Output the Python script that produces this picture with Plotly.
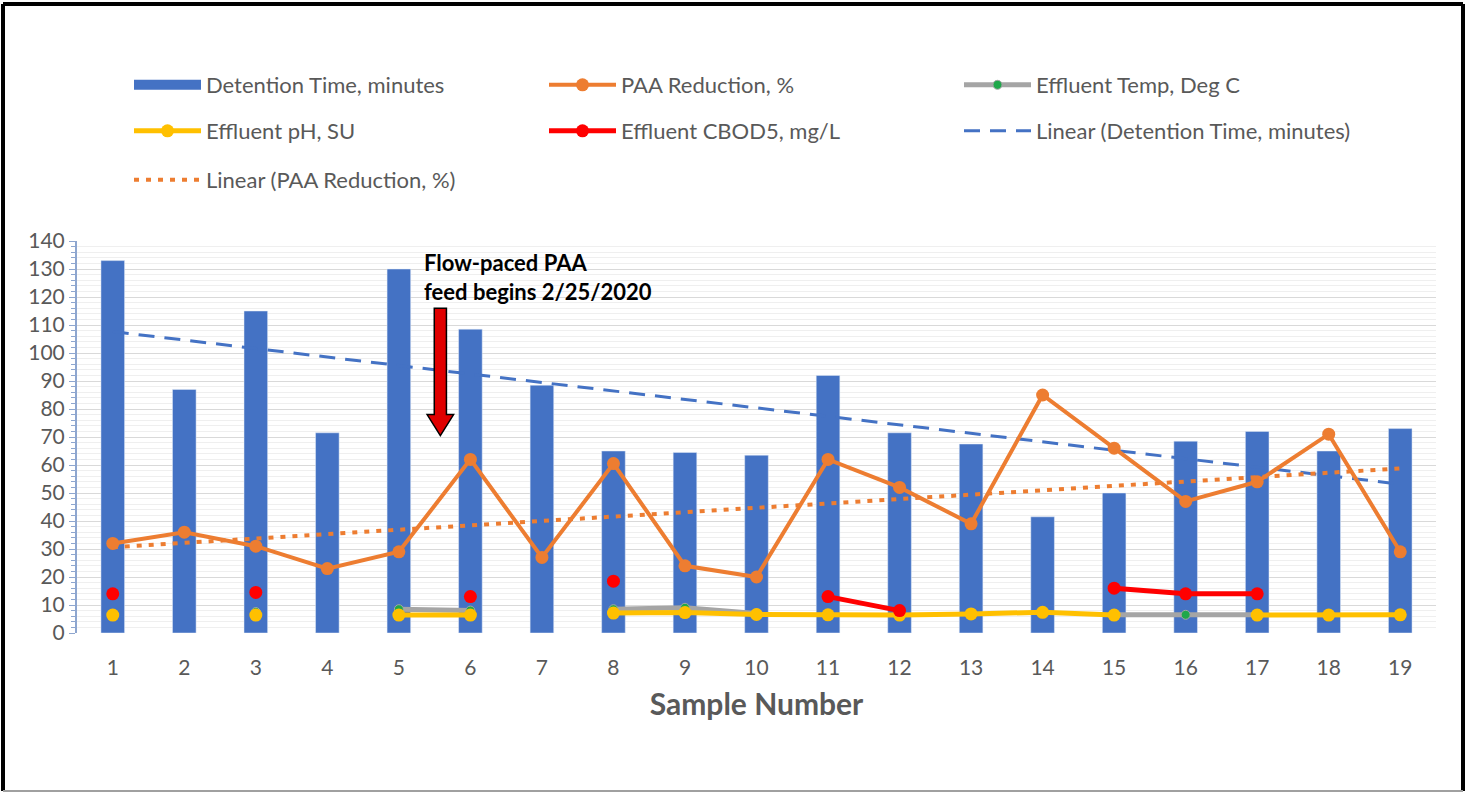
import numpy as np
import plotly.graph_objects as go

# ---------------- data ----------------
samples = list(range(1, 20))
detention_time = [133, 87, 115, 71.5, 130, 108.5, 88.5, 65, 64.5, 63.5,
                  92, 71.5, 67.5, 41.5, 50, 68.5, 72, 65, 73]
paa_reduction = [32, 36, 31, 23, 29, 62, 27, 60.5, 24, 20,
                 62, 52, 39, 85, 66, 47, 54, 71, 29]
effluent_temp = [None, None, 7.5, None, 8.5, 8, None, 8.5, 9, 7,
                 None, None, None, None, 6.5, 6.5, 6.5, None, None]
effluent_ph = [6.4, None, 6.4, None, 6.4, 6.4, None, 7.1, 7.3, 6.6,
               6.5, 6.4, 6.8, 7.4, 6.4, None, 6.4, 6.4, 6.5]
effluent_cbod5 = [14, None, 14.5, None, None, 13, None, 18.5, None, None,
                  13, 8, None, None, 16, 14, 14, None, None]
y_ticks = list(range(0, 141, 10))

# Excel-style linear trendlines (least squares on the series above)
xs = np.array(samples, dtype=float)
dt_fit = np.polyfit(xs, np.array(detention_time), 1)
paa_fit = np.polyfit(xs, np.array(paa_reduction), 1)
trend_x = [samples[0], samples[-1]]
dt_trend = list(np.polyval(dt_fit, trend_x))
paa_trend = list(np.polyval(paa_fit, trend_x))

# ---------------- colours ----------------
BLUE = "#4472C4"
ORANGE = "#ED7D31"
GRAY = "#A5A5A5"
GREEN = "#1FA84A"
YELLOW = "#FFC000"
RED = "#FF0000"
TXT = "#595959"
FONT = "Lato"

# ---------------- layout geometry (pixels) ----------------
W, H = 1469, 793
L, R, T, B = 77, 33, 241, 160
PW, PH = W - L - R, H - T - B


def px_x(p):
    return (p - L) / PW


def px_y(p):
    return (H - B - p) / PH


fig = go.Figure()

fig.add_trace(go.Bar(x=samples, y=detention_time, marker_color=BLUE,
                     width=0.33, showlegend=False, name="Detention Time, minutes"))

# trendlines
fig.add_trace(go.Scatter(x=trend_x, y=dt_trend, mode="lines",
                         line=dict(color=BLUE, width=3, dash="16px,10px"),
                         name="Linear (Detention Time, minutes)", legend="legend2",
                         legendrank=3))
fig.add_trace(go.Scatter(x=trend_x, y=paa_trend, mode="lines",
                         line=dict(color=ORANGE, width=4, dash="5px,7px"),
                         name="Linear (PAA Reduction, %)", legend="legend3"))

# legend-only sample for bars
fig.add_trace(go.Scatter(x=[None], y=[None], mode="lines",
                         line=dict(color=BLUE, width=10),
                         name="Detention Time, minutes", legend="legend", legendrank=1))

fig.add_trace(go.Scatter(x=samples, y=paa_reduction, mode="lines+markers",
                         line=dict(color=ORANGE, width=4),
                         marker=dict(color=ORANGE, size=13),
                         name="PAA Reduction, %", legend="legend", legendrank=2))
fig.add_trace(go.Scatter(x=samples, y=effluent_temp, mode="lines+markers",
                         line=dict(color=GRAY, width=5),
                         marker=dict(color=GREEN, size=9, line=dict(color=GRAY, width=1)),
                         name="Effluent Temp, Deg C", legend="legend", legendrank=3))
fig.add_trace(go.Scatter(x=samples, y=effluent_ph, mode="lines+markers",
                         line=dict(color=YELLOW, width=5),
                         marker=dict(color=YELLOW, size=13),
                         name="Effluent pH, SU", legend="legend2", legendrank=1))
fig.add_trace(go.Scatter(x=samples, y=effluent_cbod5, mode="lines+markers",
                         line=dict(color=RED, width=5),
                         marker=dict(color=RED, size=13),
                         name="Effluent CBOD5, mg/L", legend="legend2", legendrank=2))

# red arrow (feed begins)
ax = 5.58
hw_s, hw_h = 0.085, 0.185
y_top, y_neck, y_tip = 116, 78, 70.5
arrow_path = (f"M {ax-hw_s},{y_top} L {ax+hw_s},{y_top} L {ax+hw_s},{y_neck} "
              f"L {ax+hw_h},{y_neck} L {ax},{y_tip} L {ax-hw_h},{y_neck} "
              f"L {ax-hw_s},{y_neck} Z")
fig.add_shape(type="path", path=arrow_path, xref="x", yref="y",
              fillcolor="#E00000", line=dict(color="black", width=1.5))

fig.add_annotation(x=5.33, y=138, xref="x", yref="y", xanchor="left", yanchor="top",
                   text="<b>Flow-paced PAA<br>feed begins 2/25/2020</b>",
                   showarrow=False, align="left",
                   font=dict(family=FONT, size=22, color="black"))

# outer frame
x0, x1 = px_x(3), px_x(1463)
y0, y1 = px_y(791), px_y(4)
for (xa, ya, xb, yb, c, w) in [(x0, y1, x1, y1, "black", 4),
                               (x0, y0, x0, y1, "black", 4),
                               (x1, y0, x1, y1, "black", 4),
                               (x0, y0, x1, y0, "#A0A0A0", 2)]:
    fig.add_shape(type="line", xref="paper", yref="paper", x0=xa, y0=ya, x1=xb, y1=yb,
                  line=dict(color=c, width=w))

legend_common = dict(orientation="h", xanchor="left", yanchor="middle",
                     entrywidth=333, entrywidthmode="pixels", itemwidth=67,
                     font=dict(family=FONT, size=22, color=TXT),
                     bgcolor="rgba(0,0,0,0)", itemclick=False, itemdoubleclick=False)

fig.update_layout(
    width=W, height=H,
    margin=dict(l=L, r=R, t=T, b=B, pad=0),
    paper_bgcolor="white", plot_bgcolor="white",
    font=dict(family=FONT, size=21, color=TXT),
    legend=dict(x=px_x(129), y=px_y(85), **legend_common),
    legend2=dict(x=px_x(129), y=px_y(131), **legend_common),
    legend3=dict(x=px_x(129), y=px_y(180), **legend_common),
    xaxis=dict(range=[0.5, 19.5], tickmode="array", tickvals=samples,
               ticktext=[str(s) for s in samples], showgrid=False, zeroline=False,
               showline=False, ticks="", ticklabelstandoff=20,
               tickfont=dict(family=FONT, size=21, color=TXT),
               title=dict(text="<b>Sample Number</b>", standoff=15,
                          font=dict(family=FONT, size=30, color=TXT))),
    yaxis=dict(range=[0, 140], tickmode="array", tickvals=y_ticks,
               showgrid=True, gridcolor="#D9D9D9", gridwidth=1, zeroline=False,
               showline=True, linecolor="#8EA6CF", linewidth=2,
               ticks="outside", ticklen=6, tickcolor="#8EA6CF",
               minor=dict(dtick=2, showgrid=True, gridcolor="#EFEFEF",
                          ticks="outside", ticklen=4, tickcolor="#8EA6CF"),
               tickfont=dict(family=FONT, size=21, color=TXT)),
    bargap=0.6,
)

fig.write_html("out.html", config={"displayModeBar": False},
               post_script="document.body.style.margin='0';document.body.style.padding='0';")
